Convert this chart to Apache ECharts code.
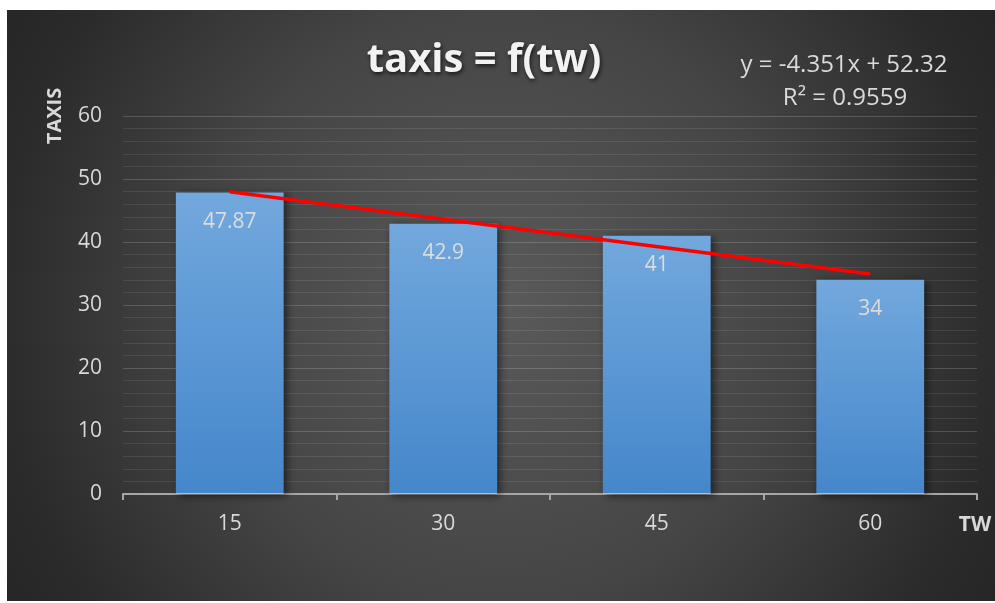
<!DOCTYPE html>
<html>
<head>
<meta charset="utf-8">
<title>taxis = f(tw)</title>
<script src="https://cdn.jsdelivr.net/npm/echarts@6/dist/echarts.min.js"></script>
<style>
  html, body { margin: 0; padding: 0; background: #ffffff; }
  #chart { width: 995px; height: 603px; }
</style>
</head>
<body>
<div id="chart"></div>
<script>
// Categories (tw) and measured taxis values
const categories = ['15', '30', '45', '60'];
const taxisValues = [47.87, 42.9, 41, 34];

// Linear trend line stated on the chart: y = slope * x + intercept, x = 1..n
const trendSlope = -4.351;
const trendIntercept = 52.32;
const trendLabel = 'y = -4.351x + 52.32';
const r2Label = 'R\u00b2 = 0.9559';

const titleText = 'taxis = f(tw)';
const yAxisTitle = 'TAXIS';
const xAxisTitle = 'TW';

const FONT = '"Open Sans", "Noto Sans", sans-serif';
const LABEL_COLOR = '#d9d9d9';

const trendData = [
  [0, trendIntercept + trendSlope * 1],
  [categories.length - 1, trendIntercept + trendSlope * categories.length]
];

const chart = echarts.init(document.getElementById('chart'), null, { renderer: 'canvas' });

chart.setOption({
  backgroundColor: '#ffffff',
  animation: false,
  graphic: [
    {
      type: 'rect',
      z: -10,
      silent: true,
      shape: { x: 7, y: 10, width: 988, height: 591 },
      style: {
        fill: {
          type: 'radial', x: 0.5, y: 0.5, r: 1.0,
          colorStops: [
            { offset: 0, color: '#5a5a5a' },
            { offset: 0.5, color: '#454545' },
            { offset: 0.85, color: '#2b2b2b' },
            { offset: 1, color: '#252525' }
          ]
        }
      }
    },
    {
      type: 'text',
      x: 484, y: 61,
      style: {
        text: titleText,
        font: 'bold 40px ' + FONT,
        fill: '#f2f2f2',
        align: 'center',
        verticalAlign: 'middle',
        textShadowColor: 'rgba(0,0,0,0.7)',
        textShadowBlur: 4,
        textShadowOffsetX: 1,
        textShadowOffsetY: 2
      }
    },
    {
      type: 'text',
      x: 844, y: 65,
      style: {
        text: trendLabel,
        font: '24px ' + FONT,
        fill: LABEL_COLOR,
        align: 'center',
        verticalAlign: 'middle'
      }
    },
    {
      type: 'text',
      x: 845, y: 98,
      style: {
        text: r2Label,
        font: '24px ' + FONT,
        fill: LABEL_COLOR,
        align: 'center',
        verticalAlign: 'middle'
      }
    },
    {
      type: 'text',
      x: 55, y: 116,
      rotation: Math.PI / 2,
      style: {
        text: yAxisTitle,
        font: 'bold 20px ' + FONT,
        fill: LABEL_COLOR,
        align: 'center',
        verticalAlign: 'middle'
      }
    },
    {
      type: 'text',
      x: 975, y: 525,
      style: {
        text: xAxisTitle,
        font: 'bold 21px ' + FONT,
        fill: LABEL_COLOR,
        align: 'center',
        verticalAlign: 'middle'
      }
    }
  ],
  grid: { left: 123, right: 18, top: 116, bottom: 109, containLabel: false },
  xAxis: {
    type: 'category',
    data: categories,
    boundaryGap: true,
    axisLine: { show: true, lineStyle: { color: '#a6a6a6', width: 2 } },
    axisTick: { show: true, length: 6, lineStyle: { color: '#a6a6a6', width: 2 } },
    axisLabel: { color: LABEL_COLOR, fontSize: 21, fontFamily: FONT, margin: 20 },
    splitLine: { show: false }
  },
  yAxis: {
    type: 'value',
    min: 0, max: 60, interval: 10,
    axisLine: { show: false },
    axisTick: { show: false },
    axisLabel: { color: LABEL_COLOR, fontSize: 21, fontFamily: FONT, margin: 21 },
    splitLine: { show: true, lineStyle: { color: 'rgba(255,255,255,0.17)', width: 1 } },
    minorTick: { show: false, splitNumber: 5 },
    minorSplitLine: { show: true, lineStyle: { color: 'rgba(255,255,255,0.09)', width: 1 } }
  },
  series: [
    {
      type: 'bar',
      data: taxisValues,
      barWidth: '50.5%',
      z: 2,
      itemStyle: {
        color: {
          type: 'linear', x: 0, y: 0, x2: 0, y2: 1,
          colorStops: [
            { offset: 0, color: '#72a8dd' },
            { offset: 0.995, color: '#4587cb' },
            { offset: 0.996, color: '#9cc3e8' },
            { offset: 1, color: '#9cc3e8' }
          ]
        },
        shadowColor: 'rgba(0,0,0,0.55)',
        shadowBlur: 8,
        shadowOffsetX: 3,
        shadowOffsetY: 2
      },
      label: {
        show: true,
        position: 'insideTop',
        distance: 19,
        color: '#dcdcdc',
        fontSize: 21,
        fontFamily: FONT
      }
    },
    {
      type: 'line',
      data: trendData,
      z: 5,
      symbol: 'none',
      silent: true,
      lineStyle: { color: '#ff0000', width: 3.5 }
    }
  ]
});
</script>
</body>
</html>
